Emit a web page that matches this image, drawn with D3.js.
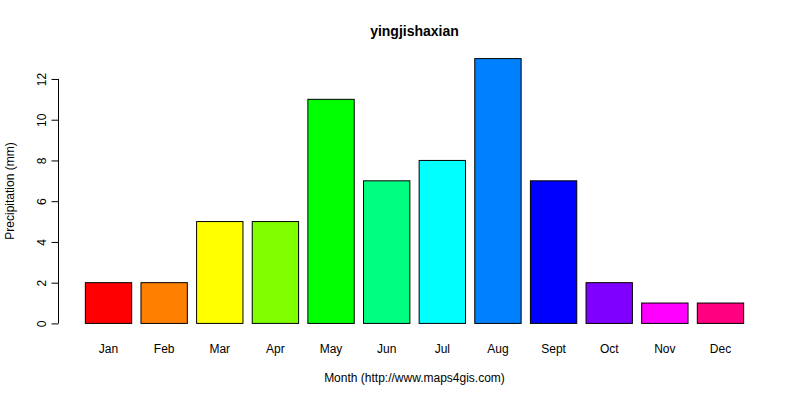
<!DOCTYPE html>
<html>
<head>
<meta charset="utf-8">
<script src="https://cdn.jsdelivr.net/npm/d3@7"></script>
<style>
  body { margin: 0; background: #fff; }
  text { font-family: "Liberation Sans", Arial, sans-serif; fill: #000; }
</style>
</head>
<body>
<div class="canvas"></div>
<script>
const months = ["Jan", "Feb", "Mar", "Apr", "May", "Jun", "Jul", "Aug", "Sept", "Oct", "Nov", "Dec"];
const precip = [2, 2, 5, 5, 11, 7, 8, 13, 7, 2, 1, 1];
const barColors = ["#FF0000", "#FF8000", "#FFFF00", "#80FF00", "#00FF00", "#00FF80",
                   "#00FFFF", "#0080FF", "#0000FF", "#8000FF", "#FF00FF", "#FF0080"];
const yTicks = [0, 2, 4, 6, 8, 10, 12];

const width = 800, height = 400;
const plot = { left: 59, right: 770, top: 48, bottom: 334 };

const svg = d3.select(".canvas")
  .append("svg")
  .attr("width", width)
  .attr("height", height);

// R barplot style: bar width 1, space 0.2, range padded by 4%
const xMin = 0.2;
const xMax = months.length * 1.2;
const xPad = (xMax - xMin) * 0.04;
const x = d3.scaleLinear()
  .domain([xMin - xPad, xMax + xPad])
  .range([plot.left, plot.right]);

const yPad = 13 * 0.04;
const y = d3.scaleLinear()
  .domain([-yPad, 13 + yPad])
  .range([plot.bottom, plot.top]);

svg.append("g")
  .selectAll("rect")
  .data(precip)
  .enter()
  .append("rect")
  .attr("x", (d, i) => x(0.2 + i * 1.2))
  .attr("width", x(1) - x(0))
  .attr("y", d => y(d))
  .attr("height", d => y(0) - y(d))
  .attr("fill", (d, i) => barColors[i])
  .attr("stroke", "#000")
  .attr("stroke-width", 1);

// month names under bars
svg.append("g")
  .selectAll("text")
  .data(months)
  .enter()
  .append("text")
  .attr("x", (d, i) => x(0.2 + i * 1.2 + 0.5))
  .attr("y", 353)
  .attr("text-anchor", "middle")
  .attr("font-size", 12)
  .text(d => d);

// y axis
const yAxis = d3.axisLeft(y)
  .tickValues(yTicks)
  .tickSize(7)
  .tickPadding(0)
  .tickSizeOuter(0);

const yAxisG = svg.append("g")
  .attr("transform", `translate(${plot.left - 0.5},0)`)
  .call(yAxis);

yAxisG.select(".domain")
  .attr("d", `M0,${y(0)}V${y(12)}`)
  .attr("stroke", "#000");
yAxisG.selectAll(".tick line").attr("stroke", "#000");
yAxisG.selectAll(".tick text")
  .attr("font-size", 12)
  .attr("fill", "#000")
  .attr("font-family", "Liberation Sans, Arial, sans-serif")
  .attr("text-anchor", "middle")
  .attr("x", 0)
  .attr("dy", 0)
  .attr("transform", "translate(-17,0) rotate(-90)")
  .attr("dominant-baseline", "central");

// title and axis labels
svg.append("text")
  .attr("x", (plot.left + plot.right) / 2)
  .attr("y", 36)
  .attr("text-anchor", "middle")
  .attr("font-size", 14)
  .attr("font-weight", "bold")
  .text("yingjishaxian");

svg.append("text")
  .attr("x", (plot.left + plot.right) / 2)
  .attr("y", 382)
  .attr("text-anchor", "middle")
  .attr("font-size", 12)
  .text("Month (http://www.maps4gis.com)");

svg.append("text")
  .attr("transform", `translate(14,${(plot.top + plot.bottom) / 2}) rotate(-90)`)
  .attr("text-anchor", "middle")
  .attr("font-size", 12)
  .text("Precipitation (mm)");
</script>
</body>
</html>
